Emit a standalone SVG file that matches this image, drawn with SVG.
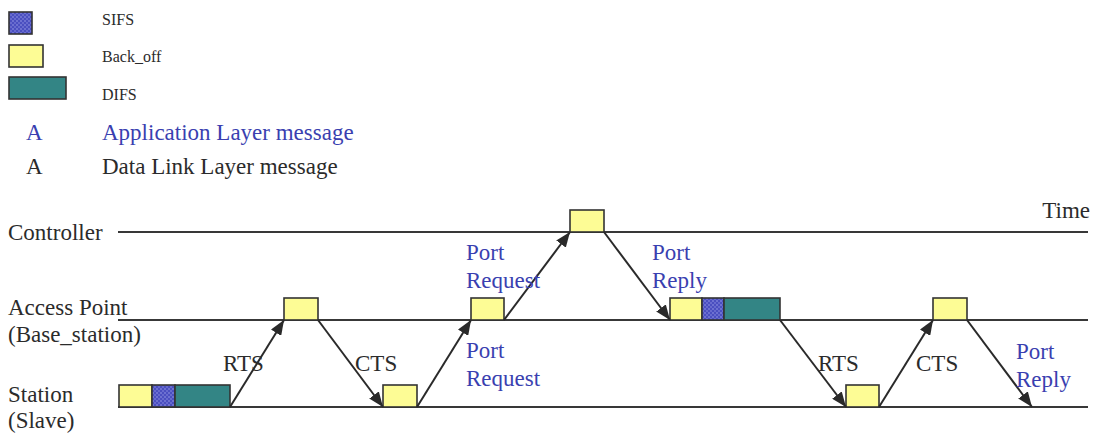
<svg xmlns="http://www.w3.org/2000/svg" width="1098" height="436" viewBox="0 0 1098 436">
<style>
text{font-family:"Liberation Serif","Times New Roman",serif;}
.t{font-size:23px;fill:#2b2b2b;}
.b{font-size:23px;fill:#3a3fb0;}
.s{font-size:16px;fill:#2b2b2b;}
.ln{stroke:#383838;stroke-width:2;fill:none;}
.ar{stroke:#2a2a2a;stroke-width:2;fill:none;marker-end:url(#ah);}
.y{fill:#fdfc95;stroke:#333;stroke-width:1.6;}
.q{fill:url(#dots);stroke:#333;stroke-width:1.6;}
.g{fill:#338585;stroke:#333;stroke-width:1.6;}
</style>
<defs>
<pattern id="dots" width="4" height="4" patternUnits="userSpaceOnUse">
<rect width="4" height="4" fill="#4a4fc0"/>
<circle cx="1" cy="1" r="0.8" fill="#9a9ce8"/>
<circle cx="3" cy="3" r="0.8" fill="#8b8de0"/>
</pattern>
<marker id="ah" markerUnits="userSpaceOnUse" markerWidth="16" markerHeight="12" refX="15" refY="6" orient="auto">
<path d="M0,0 L15,6 L0,12 z" fill="#2a2a2a"/>
</marker>
</defs>
<g id="legend">
<rect class="q" x="9" y="12" width="23" height="22"/>
<text class="s" x="102" y="25">SIFS</text>
<rect class="y" x="9" y="45" width="34" height="22"/>
<text class="s" x="102" y="62">Back_off</text>
<rect class="g" x="9" y="77" width="57" height="22"/>
<text class="s" x="102" y="100">DIFS</text>
<text class="b" x="26" y="140">A</text>
<text class="b" x="102" y="140">Application Layer message</text>
<text class="t" x="26" y="174">A</text>
<text class="t" x="102" y="174">Data Link Layer message</text>
</g>
<g id="controller">
<text class="t" x="8" y="240">Controller</text>
<line class="ln" x1="118" y1="232" x2="1088" y2="232"/>
<text class="t" x="1090" y="218" text-anchor="end">Time</text>
<rect class="y" x="570" y="210" width="34" height="22"/>
</g>
<g id="access-point">
<line class="ln" x1="118" y1="320" x2="1088" y2="320"/>
<text class="t" x="8" y="315">Access Point</text>
<text class="t" x="8" y="342">(Base_station)</text>
<rect class="y" x="284" y="298" width="34" height="22"/>
<rect class="y" x="471" y="298" width="33" height="22"/>
<rect class="y" x="670" y="298" width="32" height="22"/>
<rect class="q" x="702" y="298" width="22" height="22"/>
<rect class="g" x="724" y="298" width="56" height="22"/>
<rect class="y" x="933" y="298" width="34" height="22"/>
</g>
<g id="station">
<line class="ln" x1="118" y1="407" x2="1088" y2="407"/>
<text class="t" x="8" y="402">Station</text>
<text class="t" x="8" y="428">(Slave)</text>
<rect class="y" x="119" y="385" width="33" height="22"/>
<rect class="q" x="152" y="385" width="23" height="22"/>
<rect class="g" x="175" y="385" width="55" height="22"/>
<rect class="y" x="383" y="385" width="34" height="22"/>
<rect class="y" x="846" y="385" width="33" height="22"/>
</g>
<g id="connectors">
<line class="ar" x1="230" y1="407" x2="284" y2="320"/>
<line class="ar" x1="318" y1="320" x2="383" y2="407"/>
<line class="ar" x1="417" y1="407" x2="471" y2="320"/>
<line class="ar" x1="504" y1="320" x2="570" y2="232"/>
<line class="ar" x1="604" y1="232" x2="670" y2="320"/>
<line class="ar" x1="780" y1="320" x2="846" y2="407"/>
<line class="ar" x1="879" y1="407" x2="933" y2="320"/>
<line class="ar" x1="967" y1="320" x2="1032" y2="407"/>
</g>
<g id="labels">
<text class="t" x="223" y="371">RTS</text>
<text class="t" x="355" y="371">CTS</text>
<text class="b" x="466" y="260">Port</text>
<text class="b" x="466" y="288">Request</text>
<text class="b" x="466" y="358">Port</text>
<text class="b" x="466" y="386">Request</text>
<text class="b" x="652" y="260">Port</text>
<text class="b" x="652" y="288">Reply</text>
<text class="t" x="818" y="371">RTS</text>
<text class="t" x="916" y="371">CTS</text>
<text class="b" x="1016" y="359">Port</text>
<text class="b" x="1016" y="387">Reply</text>
</g>
</svg>
